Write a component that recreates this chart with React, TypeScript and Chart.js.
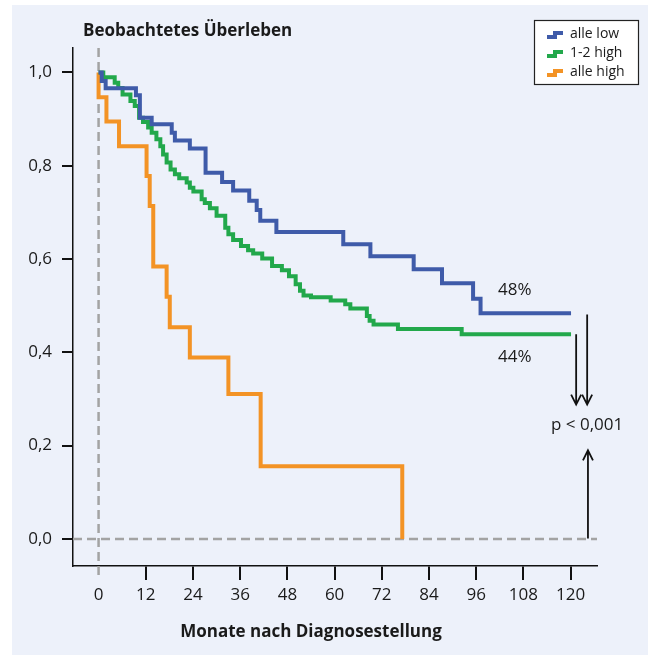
import React, { useEffect, useRef } from 'react';
import { Chart, registerables } from 'chart.js';

Chart.register(...registerables);

const seriesLabels = ['alle low', '1-2 high', 'alle high'];
const seriesColors = ['#3F5BA9', '#22A84B', '#F39325'];

const xTickValues = [0, 12, 24, 36, 48, 60, 72, 84, 96, 108, 120];
const yTickValues = [0, 0.2, 0.4, 0.6, 0.8, 1.0];

const lowMonths = [0, 0.8, 1.8, 9.5, 10.5, 13.5, 18.6, 19.4, 23.2, 27.2, 31.4, 34.2, 38.3, 40.2, 41.1, 45.2, 62.2, 69.1, 80.1, 87.3, 95.2, 97.1, 120.1];
const lowSurvival = [1.0, 0.982, 0.966, 0.951, 0.903, 0.889, 0.871, 0.854, 0.837, 0.785, 0.765, 0.747, 0.725, 0.705, 0.682, 0.658, 0.632, 0.606, 0.578, 0.548, 0.515, 0.484, 0.484];

const midMonths = [0, 1.2, 4.1, 5.0, 6.1, 8.1, 9.2, 10.3, 11.3, 12.6, 13.5, 14.7, 15.7, 16.4, 17.3, 18.3, 19.4, 20.5, 22.4, 23.2, 24.1, 26.2, 27.0, 28.3, 30.0, 32.2, 33.0, 34.2, 36.2, 38.0, 39.3, 41.6, 44.1, 46.6, 48.4, 50.1, 51.2, 52.1, 54.0, 59.0, 62.7, 64.0, 68.2, 68.9, 69.9, 76.1, 92.3, 120.1];
const midSurvival = [1.0, 0.99, 0.978, 0.967, 0.953, 0.939, 0.928, 0.903, 0.894, 0.882, 0.871, 0.857, 0.842, 0.824, 0.807, 0.792, 0.782, 0.773, 0.764, 0.753, 0.745, 0.728, 0.72, 0.709, 0.693, 0.667, 0.653, 0.641, 0.628, 0.619, 0.612, 0.601, 0.585, 0.576, 0.563, 0.546, 0.532, 0.522, 0.518, 0.511, 0.503, 0.494, 0.478, 0.468, 0.46, 0.45, 0.439, 0.439];

const highMonths = [0, 0, 2.0, 5.2, 12.2, 13.0, 13.9, 17.3, 18.1, 23.2, 33.0, 41.2, 77.2];
const highSurvival = [1.0, 0.947, 0.895, 0.842, 0.778, 0.714, 0.584, 0.519, 0.454, 0.389, 0.311, 0.156, 0.0];

const chartTitle = 'Beobachtetes Überleben';
const xAxisTitle = 'Monate nach Diagnosestellung';
const endLabels = ['48%', '44%'];
const pValueText = 'p < 0,001';

const FONT = "'Open Sans', 'DejaVu Sans', sans-serif";

function toPoints(xs: number[], ys: number[]) {
  return xs.map((x, i) => ({ x, y: ys[i] }));
}

const decorPlugin = {
  id: 'decor',
  beforeDraw(chart: any) {
    const ctx = chart.ctx;
    ctx.save();
    ctx.fillStyle = '#ffffff';
    ctx.fillRect(0, 0, chart.width, chart.height);
    ctx.fillStyle = '#EDF1FA';
    ctx.fillRect(12, 5, 636, 650);
    ctx.restore();
  },
  beforeDatasetsDraw(chart: any) {
    const ctx = chart.ctx;
    const xs = chart.scales.x;
    const ys = chart.scales.y;
    const area = chart.chartArea;
    ctx.save();
    ctx.strokeStyle = '#A3A3A3';
    ctx.lineWidth = 2.5;
    ctx.setLineDash([9, 5]);
    const y0 = ys.getPixelForValue(0);
    ctx.beginPath();
    ctx.moveTo(area.left, y0);
    ctx.lineTo(area.right, y0);
    ctx.stroke();
    const x0 = xs.getPixelForValue(0);
    ctx.beginPath();
    ctx.moveTo(x0, area.top);
    ctx.lineTo(x0, area.bottom + 14);
    ctx.stroke();
    ctx.restore();
  },
  afterDraw(chart: any) {
    const ctx = chart.ctx;
    const xs = chart.scales.x;
    const ys = chart.scales.y;
    ctx.save();
    ctx.fillStyle = '#1a1a1a';
    ctx.font = `bold 17px ${FONT}`;
    ctx.textBaseline = 'middle';
    ctx.textAlign = 'left';
    ctx.fillText(chartTitle, 83, 31);

    // x axis title
    ctx.textAlign = 'center';
    ctx.fillText(xAxisTitle, 311, 632);

    // end labels
    ctx.font = `17px ${FONT}`;
    ctx.textAlign = 'center';
    ctx.fillText(endLabels[0], xs.getPixelForValue(105.8), ys.getPixelForValue(0.534));
    ctx.fillText(endLabels[1], xs.getPixelForValue(105.8), ys.getPixelForValue(0.39));
    ctx.fillText(pValueText, xs.getPixelForValue(124.2), ys.getPixelForValue(0.245));

    // arrows
    ctx.strokeStyle = '#111';
    ctx.lineWidth = 1.8;
    const arrow = (xv: number, fromV: number, toV: number) => {
      const x = xs.getPixelForValue(xv);
      const y1 = ys.getPixelForValue(fromV);
      const y2 = ys.getPixelForValue(toV);
      const dir = y2 > y1 ? 1 : -1;
      ctx.beginPath();
      ctx.moveTo(x, y1);
      ctx.lineTo(x, y2);
      ctx.moveTo(x - 5, y2 - dir * 10);
      ctx.lineTo(x, y2);
      ctx.lineTo(x + 5, y2 - dir * 10);
      ctx.stroke();
    };
    arrow(121.4, 0.439, 0.288);
    arrow(124.2, 0.481, 0.288);
    arrow(124.4, 0.001, 0.19);

    // legend
    ctx.setLineDash([]);
    ctx.fillStyle = '#ffffff';
    ctx.fillRect(534, 20, 105, 65);
    ctx.strokeStyle = '#222';
    ctx.lineWidth = 1.2;
    ctx.strokeRect(534.5, 20.5, 104, 64);
    ctx.font = `14px ${FONT}`;
    ctx.textAlign = 'left';
    seriesLabels.forEach((label, i) => {
      const cy = 34 + i * 19;
      ctx.strokeStyle = seriesColors[i];
      ctx.lineWidth = 4;
      ctx.beginPath();
      ctx.moveTo(547, cy + 3);
      ctx.lineTo(555, cy + 3);
      ctx.lineTo(555, cy - 1);
      ctx.lineTo(563, cy - 1);
      ctx.stroke();
      ctx.fillStyle = '#1a1a1a';
      ctx.fillText(label, 570, cy);
    });
    ctx.restore();
  },
};

export default function App() {
  const canvasRef = useRef<HTMLCanvasElement | null>(null);

  useEffect(() => {
    if (!canvasRef.current) return;
    const makeSet = (label: string, color: string, xs: number[], ys: number[]) => ({
      label,
      data: toPoints(xs, ys),
      borderColor: color,
      backgroundColor: color,
      borderWidth: 4,
      pointRadius: 0,
      stepped: 'before' as const,
      fill: false,
      tension: 0,
      borderJoinStyle: 'miter' as const,
    });
    const chart = new Chart(canvasRef.current, {
      type: 'line',
      data: {
        datasets: [
          makeSet(seriesLabels[0], seriesColors[0], lowMonths, lowSurvival),
          makeSet(seriesLabels[1], seriesColors[1], midMonths, midSurvival),
          makeSet(seriesLabels[2], seriesColors[2], highMonths, highSurvival),
        ],
      },
      options: {
        animation: false,
        responsive: false,
        devicePixelRatio: 1,
        layout: { padding: { left: 0, top: 48, right: 57, bottom: 0 } },
        plugins: { legend: { display: false }, tooltip: { enabled: false } },
        scales: {
          x: {
            type: 'linear',
            min: -6.5,
            max: 126.7,
            afterBuildTicks: (scale: any) => {
              scale.ticks = xTickValues.map((v) => ({ value: v }));
            },
            afterFit: (scale: any) => {
              scale.height = 89;
            },
            ticks: {
              color: '#1a1a1a',
              font: { family: FONT, size: 17 },
              padding: 5,
              maxRotation: 0,
              autoSkip: false,
              callback: (v: any) => String(v),
            },
            grid: {
              drawOnChartArea: false,
              drawTicks: true,
              tickLength: 14,
              lineWidth: 2,
              color: (c: any) => (c.tick && c.tick.value === 0 ? 'rgba(0,0,0,0)' : '#111'),
            },
            border: { display: true, color: '#111', width: 1.5 },
          },
          y: {
            type: 'linear',
            min: -0.058,
            max: 1.0525,
            afterBuildTicks: (scale: any) => {
              scale.ticks = yTickValues.map((v) => ({ value: v }));
            },
            afterFit: (scale: any) => {
              scale.width = 73;
            },
            ticks: {
              color: '#1a1a1a',
              font: { family: FONT, size: 17 },
              padding: 10,
              autoSkip: false,
              callback: (v: any) => Number(v).toFixed(1).replace('.', ','),
            },
            grid: {
              drawOnChartArea: false,
              drawTicks: true,
              tickLength: 11,
              lineWidth: 2,
              color: '#111',
            },
            border: { display: true, color: '#111', width: 1.5 },
          },
        },
      },
      plugins: [decorPlugin],
    } as any);
    return () => chart.destroy();
  }, []);

  return (
    <div style={{ position: 'absolute', left: 0, top: 0, width: 654, height: 655 }}>
      <canvas ref={canvasRef} width={654} height={655} style={{ display: 'block', width: 654, height: 655 }} />
    </div>
  );
}
